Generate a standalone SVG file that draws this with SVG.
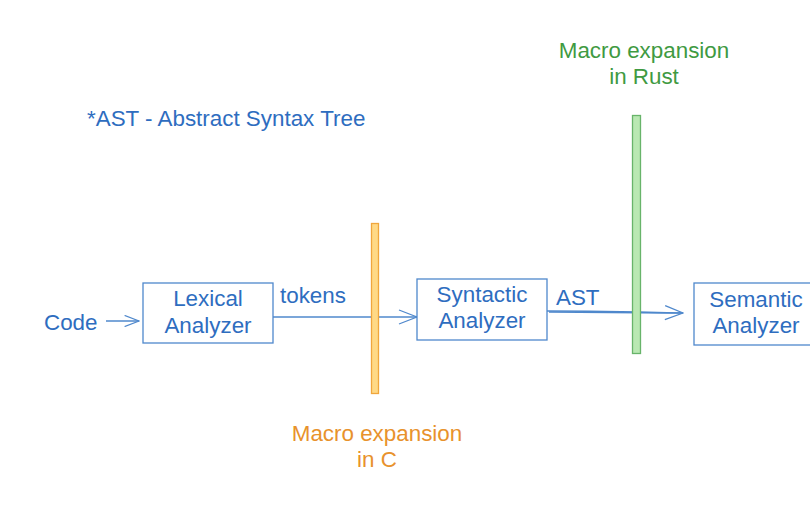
<svg xmlns="http://www.w3.org/2000/svg" width="810" height="512" viewBox="0 0 810 512">
<defs>
<style>
text{font-family:"Liberation Sans",Arial,Helvetica,sans-serif;font-size:22.4px}
.b{fill:#2e6dbf}
.o{fill:#e8922c}
.g{fill:#3f9a42}
.mid{text-anchor:middle}
.box{fill:#fff;stroke:#4f88cc;stroke-width:1.3}
.edge{fill:none;stroke:#4f88cc;stroke-width:1.3}
</style>
<marker id="arr" viewBox="0 0 20 16" refX="19" refY="8" markerWidth="20" markerHeight="16" markerUnits="userSpaceOnUse" orient="auto">
<path d="M1,1 L19,8 L1,15" fill="none" stroke="#4f88cc" stroke-width="1.3"/>
</marker>
<marker id="arrs" viewBox="0 0 20 16" refX="19" refY="8" markerWidth="16" markerHeight="12.8" markerUnits="userSpaceOnUse" orient="auto">
<path d="M1,1 L19,8 L1,15" fill="none" stroke="#4f88cc" stroke-width="1.5"/>
</marker>
</defs>
<rect width="810" height="512" fill="#fff"/>

<text id="note" class="b" x="87" y="126">*AST - Abstract Syntax Tree</text>

<g id="code"><text class="b" x="44" y="330">Code</text></g>

<g id="connectors">
<line class="edge" x1="106" y1="321" x2="139" y2="321" marker-end="url(#arrs)"/>
<line class="edge" x1="273" y1="317" x2="417" y2="317" marker-end="url(#arr)"/>
<path class="edge" d="M547,311 C600,311 640,312 683,313" marker-end="url(#arr)"/>
<path class="edge" d="M549,312 C600,312 640,313 681,313" stroke-width="0.8"/>
</g>

<g id="lexical">
<rect class="box" x="143" y="283" width="130" height="60"/>
<text class="b mid" x="208" y="306">Lexical</text>
<text class="b mid" x="208" y="333">Analyzer</text>
</g>
<text class="b" x="280" y="303">tokens</text>

<g id="syntactic">
<rect class="box" x="417" y="279" width="130" height="61"/>
<text class="b mid" x="482" y="302">Syntactic</text>
<text class="b mid" x="482" y="328">Analyzer</text>
</g>
<text class="b" x="556" y="305">AST</text>

<g id="semantic">
<rect class="box" x="694" y="283" width="124" height="62"/>
<text class="b mid" x="756" y="307">Semantic</text>
<text class="b mid" x="756" y="333">Analyzer</text>
</g>

<g id="macro-c">
<rect x="371.5" y="223.5" width="7" height="170" fill="#ffd986" stroke="#f0a63c" stroke-width="1.3"/>
<text class="o mid" x="377" y="441">Macro expansion</text>
<text class="o mid" x="377" y="467">in C</text>
</g>

<g id="macro-rust">
<rect x="632.5" y="115.5" width="8" height="238" fill="#b9e8b2" stroke="#68b46a" stroke-width="1.3"/>
<text class="g mid" x="644" y="58">Macro expansion</text>
<text class="g mid" x="644" y="84">in Rust</text>
</g>
</svg>
